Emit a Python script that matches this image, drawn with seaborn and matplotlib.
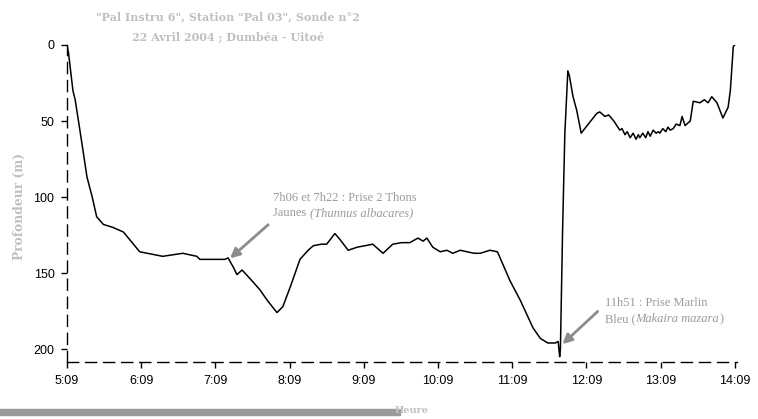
import matplotlib
matplotlib.use('Agg')
import matplotlib.pyplot as plt
import seaborn as sns
import pandas as pd
from matplotlib.patches import Rectangle

# Données (heure décimale, profondeur en m)
heure = [5.15, 5.17, 5.23, 5.26, 5.33, 5.42, 5.49, 5.55, 5.64, 5.77, 5.91, 6.13,
         6.44, 6.71, 6.90, 6.94, 7.28, 7.32, 7.39, 7.44, 7.51, 7.66, 7.75, 7.85,
         7.98, 8.06, 8.16, 8.29, 8.40, 8.47, 8.58, 8.65, 8.76, 8.83, 8.94, 9.06,
         9.17, 9.27, 9.41, 9.54, 9.66, 9.77, 9.88, 9.95, 10.00, 10.08, 10.18,
         10.27, 10.35, 10.45, 10.54, 10.64, 10.72, 10.85, 10.95, 10.96, 11.12,
         11.26, 11.43, 11.53, 11.63, 11.73, 11.77, 11.79, 11.80, 11.83, 11.86,
         11.90, 11.92, 11.97, 12.02, 12.08, 12.16, 12.29, 12.33, 12.40, 12.45,
         12.52, 12.56, 12.60, 12.63, 12.67, 12.70, 12.74, 12.78, 12.82, 12.85,
         12.87, 12.91, 12.95, 12.98, 13.01, 13.05, 13.09, 13.12, 13.14, 13.18,
         13.22, 13.25, 13.28, 13.32, 13.36, 13.41, 13.44, 13.48, 13.55, 13.59,
         13.68, 13.74, 13.79, 13.84, 13.91, 13.99, 14.06, 14.09, 14.13, 14.15]
profondeur = [0, 5, 30, 36, 58, 87, 100, 113, 118, 120, 123, 136,
              139, 137, 139, 141, 141, 140, 146, 151, 148, 156, 161, 168,
              176, 172, 159, 141, 135, 132, 131, 131, 124, 128, 135, 133,
              132, 131, 137, 131, 130, 130, 127, 129, 127, 133, 136,
              135, 137, 135, 136, 137, 137, 135, 136, 137, 155,
              168, 186, 193, 196, 196, 195, 205, 200, 120, 58,
              17, 20, 34, 43, 58, 53, 45, 44, 47, 46,
              50, 53, 56, 55, 59, 57, 61, 58, 62, 59,
              61, 58, 61, 57, 60, 56, 58, 57, 58, 55,
              57, 54, 56, 55, 52, 53, 47, 53, 50, 37,
              38, 36, 38, 34, 38, 48, 41, 30, 1, 0]

ticks_heure = [5.15, 6.15, 7.15, 8.15, 9.15, 10.15, 11.15, 12.15, 13.15, 14.15]
ticks_label = ['5:09', '6:09', '7:09', '8:09', '9:09', '10:09', '11:09', '12:09', '13:09', '14:09']
ticks_prof = [0, 50, 100, 150, 200]

sns.set_style('white')
plt.rcParams['font.family'] = ['Liberation Sans', 'DejaVu Sans']

df = pd.DataFrame({'Heure': heure, 'Profondeur': profondeur})

fig = plt.figure(figsize=(7.58, 4.19), dpi=100)
ax = fig.add_axes([67 / 758, 1 - 362 / 419, 670 / 758, 317 / 419])

sns.lineplot(data=df, x='Heure', y='Profondeur', color='black', lw=1.1,
             estimator=None, sort=False, ax=ax)

ax.set_xlim(5.15, 14.18)
ax.set_ylim(208.5, 0)
ax.set_xticks(ticks_heure)
ax.set_xticklabels(ticks_label)
ax.set_yticks(ticks_prof)
ax.tick_params(axis='both', direction='out', length=4, width=1, colors='black',
               labelsize=9, pad=5, bottom=True, left=True)
ax.set_xlabel('')
ax.set_ylabel('')

for s in ['top', 'right']:
    ax.spines[s].set_visible(False)
for s in ['left', 'bottom']:
    ax.spines[s].set_linestyle((0, (8, 5)))
    ax.spines[s].set_color('black')
    ax.spines[s].set_linewidth(1)

gris = '#9a9a9a'
fleche = dict(arrowstyle='-|>', color='#8c8c8c', lw=2, mutation_scale=14)
serif = dict(family='Liberation Serif', fontsize=9, color=gris)

# annotation thons
ax.annotate('', xy=(7.32, 141.5), xytext=(7.89, 117), arrowprops=fleche)
ax.text(7.93, 100.5, '7h06 et 7h22 : Prise 2 Thons', va='center', ha='left', **serif)
t = ax.text(7.93, 110.5, 'Jaunes ', va='center', ha='left', **serif)
ax.annotate('(Thunnus albacares)', xy=(1, 0), xycoords=t, va='bottom', ha='left',
            style='italic', **serif)

# annotation marlin
ax.annotate('', xy=(11.80, 198), xytext=(12.33, 174), arrowprops=fleche)
ax.text(12.40, 170, '11h51 : Prise Marlin', va='center', ha='left', **serif)
t = ax.text(12.40, 180.5, 'Bleu (', va='center', ha='left', **serif)
t2 = ax.annotate('Makaira mazara', xy=(1, 0), xycoords=t, va='bottom', ha='left',
                 style='italic', **serif)
ax.annotate(')', xy=(1, 0), xycoords=t2, va='bottom', ha='left', **serif)

titre_gris = '#c0c0c0'
fig.text(228 / 758, 1 - 17 / 419, '"Pal Instru 6", Station "Pal 03", Sonde n°2',
         family='DejaVu Serif', fontweight='bold', fontsize=8, color=titre_gris,
         ha='center', va='center')
fig.text(228 / 758, 1 - 37 / 419, '22 Avril 2004 ; Dumbéa - Uitoé',
         family='DejaVu Serif', fontweight='bold', fontsize=8, color=titre_gris,
         ha='center', va='center')
fig.text(19 / 758, 1 - 206 / 419, 'Profondeur (m)', family='DejaVu Serif',
         fontweight='bold', fontsize=8.8, color=titre_gris, rotation=90,
         ha='center', va='center')

# barre grise et titre d'axe en bas
fig.patches.append(Rectangle((0, 1 - 415 / 419), 400 / 758, 6 / 419,
                             transform=fig.transFigure, color='#9a9a9a', zorder=0))
fig.text(412 / 758, 1 - 406 / 419, 'Heure', family='DejaVu Serif', fontweight='bold',
         fontsize=7, color=titre_gris, ha='center', va='top')

fig.savefig('out.png', dpi=100)
